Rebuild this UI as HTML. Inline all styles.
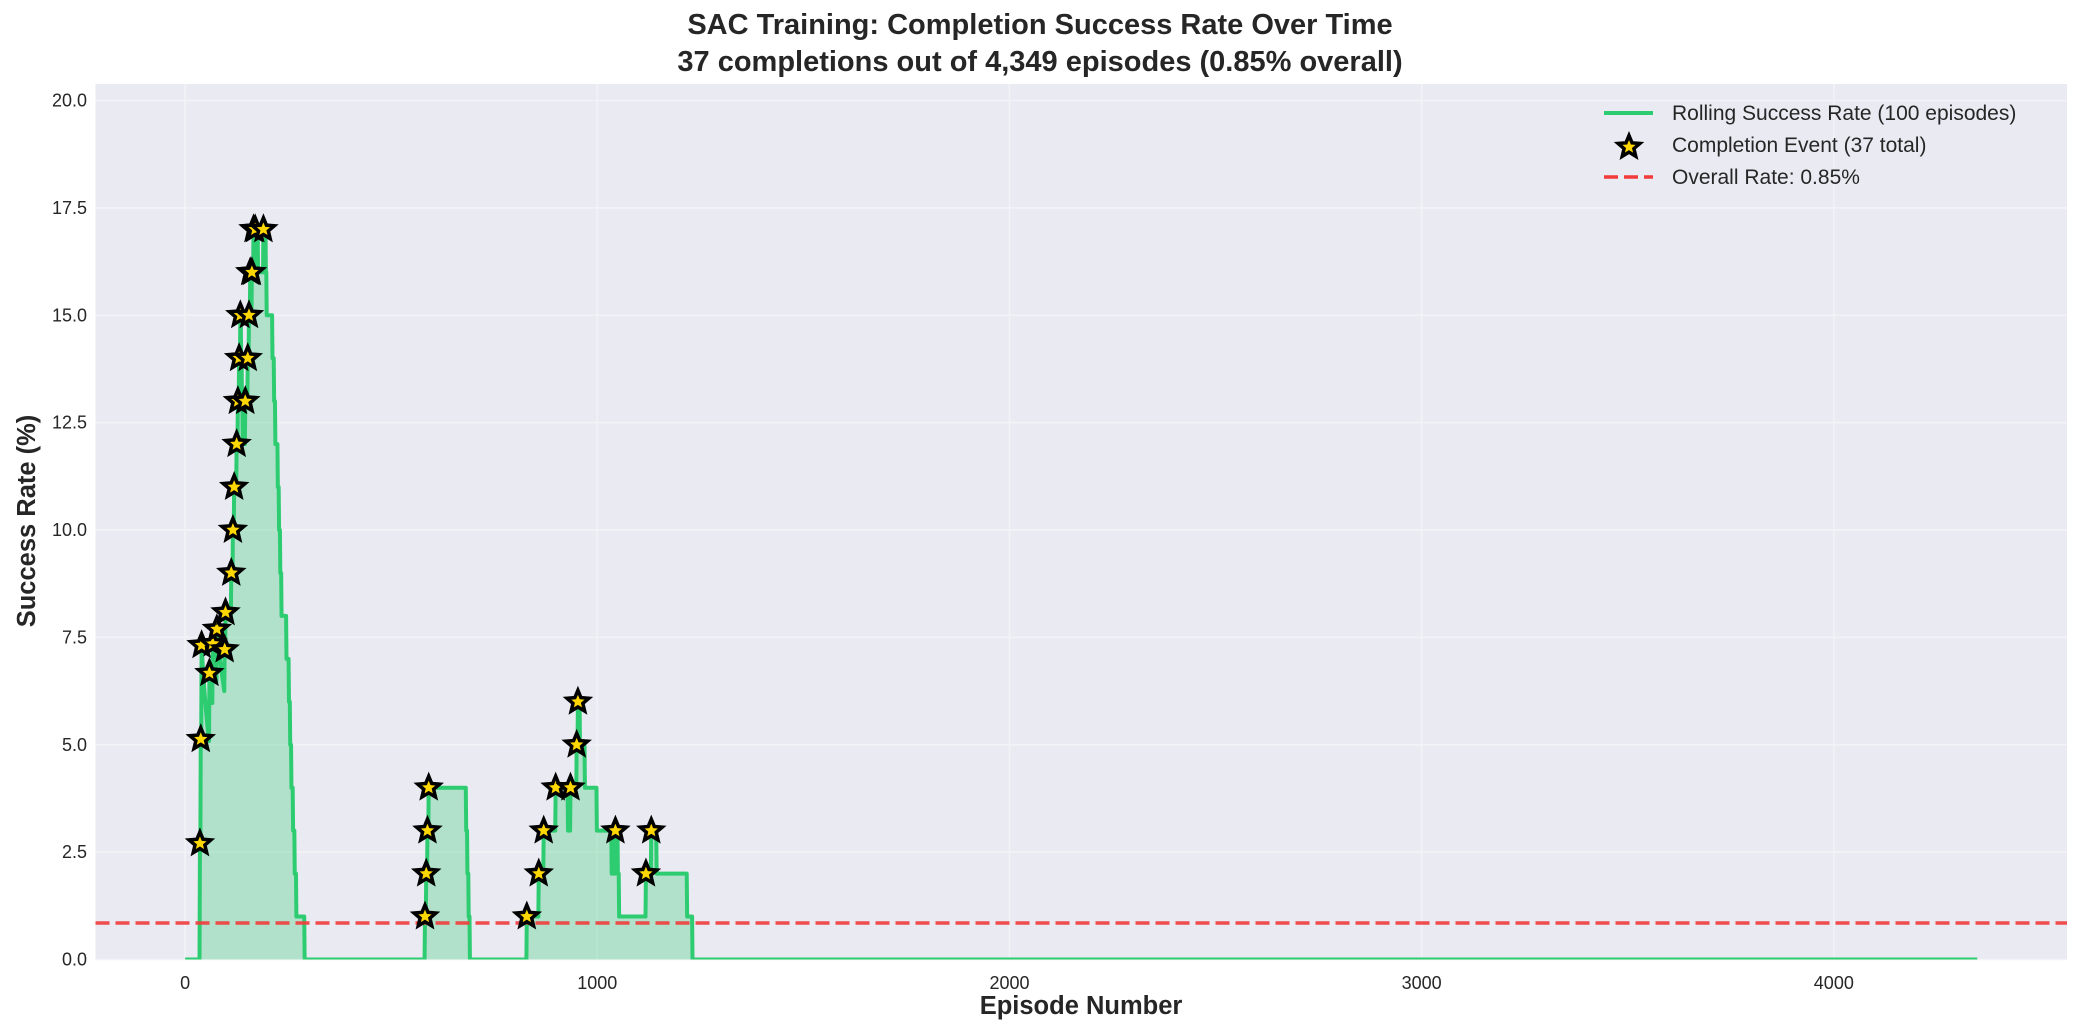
<!DOCTYPE html>
<html><head><meta charset="utf-8"><style>
html,body{margin:0;padding:0;background:#fff;}
svg{display:block;font-family:"Liberation Sans",Arial,sans-serif;}
</style></head><body>
<svg id="s" width="2081" height="1034" xmlns="http://www.w3.org/2000/svg">
<rect x="0" y="0" width="2081" height="1034" fill="#fff"/>
<rect x="95.5" y="84" width="1971.5" height="875.5" fill="#eaeaf2"/>
<g id="grid" stroke="#f3f3f7" stroke-width="1.5"></g>
<g id="data"></g>
<line x1="95.5" x2="2067" y1="923" y2="923" stroke="#f23b3b" stroke-opacity="0.9" stroke-width="3.5" stroke-dasharray="14,6"/>
<g id="stars"></g>
<g id="ticks" font-size="18" fill="#262626"></g>
<text x="1040" y="34" text-anchor="middle" font-size="29" font-weight="bold" fill="#262626">SAC Training: Completion Success Rate Over Time</text>
<text x="1040" y="71" text-anchor="middle" font-size="29" font-weight="bold" fill="#262626">37 completions out of 4,349 episodes (0.85% overall)</text>
<text x="1081" y="1014" text-anchor="middle" font-size="25.5" font-weight="bold" fill="#262626">Episode Number</text>
<text transform="translate(35,521) rotate(-90)" text-anchor="middle" font-size="25.5" font-weight="bold" fill="#262626">Success Rate (%)</text>
<g id="legend" font-size="21" fill="#262626">
<line x1="1604" x2="1653" y1="113" y2="113" stroke="#2ecc71" stroke-width="4"/>
<text x="1672" y="120">Rolling Success Rate (100 episodes)</text>
<text x="1672" y="152">Completion Event (37 total)</text>
<line x1="1604" x2="1653" y1="177" y2="177" stroke="#f23b3b" stroke-width="3.5" stroke-dasharray="14,6"/>
<text x="1672" y="184">Overall Rate: 0.85%</text>
</g>
</svg>
<script>
(function(){
var NS="http://www.w3.org/2000/svg";
function X(e){return 95.5+(e+217.4)*0.41218;}
function Y(v){return 959.5-42.95*v;}
function el(t,a,p){var n=document.createElementNS(NS,t);for(var k in a)n.setAttribute(k,a[k]);p.appendChild(n);return n;}
var grid=document.getElementById('grid'),ticks=document.getElementById('ticks');
[0,1000,2000,3000,4000].forEach(function(e){
 el('line',{x1:X(e),x2:X(e),y1:84,y2:959.5},grid);
 var t=el('text',{x:X(e),y:989,'text-anchor':'middle'},ticks);t.textContent=String(e);
});
for(var i=0;i<=8;i++){var v=i*2.5;
 el('line',{x1:95.5,x2:2067,y1:Y(v),y2:Y(v)},grid);
 var t=el('text',{x:87,y:Y(v)+6,'text-anchor':'end'},ticks);t.textContent=v.toFixed(1);
}
var comp=[36,38,40,59,67,77,96,98,112,116,119,125,128,131,134,146,152,155,158,162,166,170,190,
582,585,588,591,829,858,870,899,935,950,953,1044,1118,1131];
var N=4349,succ=new Array(N).fill(0);comp.forEach(function(c){succ[c]=1;});
var r=[],cnt=0;
for(var n=0;n<N;n++){cnt+=succ[n];if(n>=100)cnt-=succ[n-100];r.push(cnt/Math.min(n+1,100)*100);}
var pts=[];for(var n=0;n<N;n++){pts.push(X(n).toFixed(2)+','+Y(r[n]).toFixed(2));}
var data=document.getElementById('data');
var cp=document.createElementNS(NS,'clipPath');cp.setAttribute('id','cl');el('rect',{x:95.5,y:84,width:1971.5,height:875.5},cp);
document.getElementById('s').insertBefore(cp,document.getElementById('s').firstChild);
el('polygon',{points:X(0)+','+Y(0)+' '+pts.join(' ')+' '+X(N-1)+','+Y(0),fill:'#2ecc71','fill-opacity':0.3,stroke:'none'},data);
el('polyline',{points:pts.join(' '),fill:'none',stroke:'#2ecc71','stroke-width':4,'stroke-linejoin':'round','clip-path':'url(#cl)'},data);
var stars=document.getElementById('stars');
function star(cx,cy,R){var p=[];for(var k=0;k<10;k++){var a=-Math.PI/2+k*Math.PI/5,rr=k%2?R*0.45:R;p.push((cx+rr*Math.cos(a)).toFixed(2)+','+(cy+rr*Math.sin(a)).toFixed(2));}
 el('polygon',{points:p.join(' '),fill:'#ffd700',stroke:'#000','stroke-width':3.5,'stroke-linejoin':'miter'},stars);}
comp.forEach(function(c){star(X(c),Y(r[c]),11.5);});
star(1629,147,11.5);
})();
</script>
</body></html>
